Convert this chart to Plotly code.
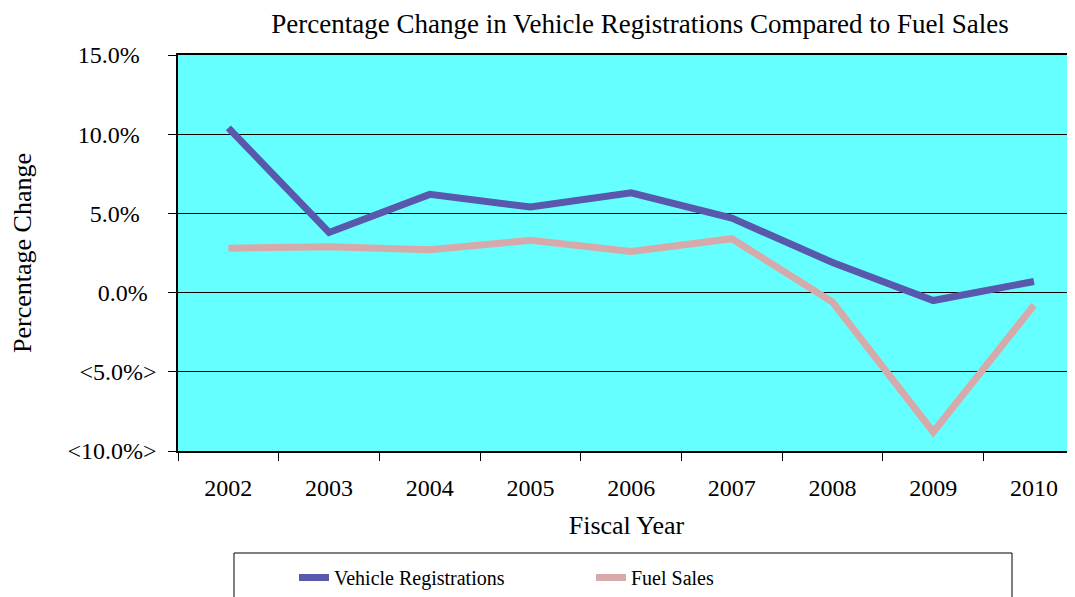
import plotly.graph_objects as go

years = ["2002", "2003", "2004", "2005", "2006", "2007", "2008", "2009", "2010"]
vehicle_registrations = [10.4, 3.8, 6.2, 5.4, 6.3, 4.7, 1.9, -0.5, 0.7]
fuel_sales = [2.8, 2.9, 2.7, 3.3, 2.6, 3.4, -0.6, -8.8, -0.8]
y_tickvals = [15, 10, 5, 0, -5, -10]
y_ticktext = ["15.0%\u2002\u2009", "10.0%\u2002\u2009", "5.0%\u2002\u2009",
              "0.0%\u2006\u2009", "<5.0%>", "<10.0%>"]

FONT = "Times New Roman, Liberation Serif, serif"

# the page body adds an 8px offset; figure sized to fill the window exactly
OFF = 8
W, H = 1075 - OFF, 597 - OFF
L, T = 178 - OFF, 55 - OFF
PLOT_BOTTOM = 451 - OFF
B = H - PLOT_BOTTOM
plot_w = W - L
plot_h = PLOT_BOTTOM - T


def px_x(p):  # screen px -> paper
    return (p - OFF - L) / plot_w


def px_y(p):
    return (PLOT_BOTTOM - (p - OFF)) / plot_h


fig = go.Figure()
fig.add_trace(go.Scatter(
    x=years, y=vehicle_registrations, mode="lines", name="Vehicle Registrations",
    line=dict(color="#5858ac", width=7),
))
fig.add_trace(go.Scatter(
    x=years, y=fuel_sales, mode="lines", name="Fuel Sales",
    line=dict(color="#d6aaaa", width=7),
))

fig.update_layout(
    width=W, height=H,
    margin=dict(l=L, r=0, t=T, b=B, autoexpand=False),
    paper_bgcolor="white",
    plot_bgcolor="#66ffff",
    font=dict(family=FONT, color="black", size=24),
    title=dict(
        text="Percentage Change in Vehicle Registrations Compared to Fuel Sales",
        x=px_x(640), xref="paper", xanchor="center",
        y=1 - (24 - OFF) / H, yanchor="middle",
        font=dict(family=FONT, size=27, color="black"),
    ),
    showlegend=True,
    legend=dict(
        orientation="h",
        x=px_x(294), xanchor="left",
        y=px_y(558), yanchor="top",
        entrywidth=252, entrywidthmode="pixels",
        font=dict(family=FONT, size=20, color="black"),
        bgcolor="rgba(0,0,0,0)",
        borderwidth=0,
    ),
    shapes=[dict(
        type="rect", xref="paper", yref="paper",
        x0=px_x(234), x1=px_x(1012), y0=px_y(553), y1=px_y(640),
        line=dict(color="black", width=1), fillcolor="rgba(0,0,0,0)",
        layer="above",
    )],
)

fig.update_xaxes(
    type="category",
    range=[-0.5, -0.5 + plot_w / 100.7],
    showline=True, linecolor="black", linewidth=1.5, mirror=True,
    ticks="outside", ticklen=8, tickcolor="black", tickson="boundaries",
    ticklabelstandoff=14,
    showgrid=False,
    tickfont=dict(family=FONT, size=24),
    title=dict(text="Fiscal Year", font=dict(family=FONT, size=26), standoff=16),
)
fig.update_yaxes(
    range=[-10, 15],
    tickvals=y_tickvals, ticktext=y_ticktext,
    showline=True, linecolor="black", linewidth=1.5,
    ticks="outside", ticklen=8, tickcolor="black",
    ticklabelstandoff=7,
    showgrid=True, gridcolor="black", gridwidth=1,
    zeroline=True, zerolinecolor="black", zerolinewidth=1,
    tickfont=dict(family=FONT, size=24),
    title=dict(text="Percentage Change", font=dict(family=FONT, size=26), standoff=30),
)

fig.write_html("out.html")
